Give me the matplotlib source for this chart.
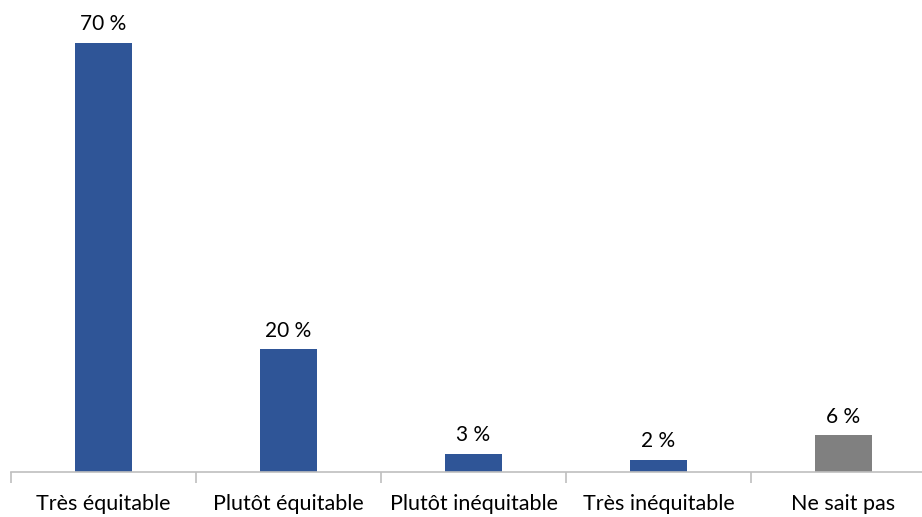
import numpy as np
import matplotlib.pyplot as plt

# Données
categories = ['Très équitable', 'Plutôt équitable', 'Plutôt inéquitable', 'Très inéquitable', 'Ne sait pas']
valeurs = [70, 20, 3, 2, 6]
couleurs = ['#2F5597', '#2F5597', '#2F5597', '#2F5597', '#808080']

plt.rcParams['font.family'] = ['Lato', 'DejaVu Sans']

fig = plt.figure(figsize=(9.22, 5.17), dpi=100)
ax = fig.add_axes([11/922, 45/517, 911/922, 472/517])

x = np.arange(len(categories))
ax.bar(x, valeurs, width=0.31, color=couleurs)

for xi, v in zip(x, valeurs):
    ax.text(xi, v + 1.4, '{} %'.format(v), ha='center', va='bottom', fontsize=15, color='#000000')

ax.set_xlim(-0.5, -0.5 + 911/185)
ax.set_ylim(0, 77)

for s in ['top', 'right', 'left']:
    ax.spines[s].set_visible(False)
ax.spines['bottom'].set_color('#BFBFBF')
ax.spines['bottom'].set_linewidth(1.2)

ax.set_yticks([])
ax.set_xticks(x)
ax.set_xticklabels(categories, fontsize=15.5)
ax.tick_params(axis='x', which='major', length=0, pad=16)
ax.set_xticks(np.arange(-0.5, 4.0, 1.0), minor=True)
ax.tick_params(axis='x', which='minor', length=8, width=1.2, color='#BFBFBF')

fig.savefig('out.png', dpi=100)
